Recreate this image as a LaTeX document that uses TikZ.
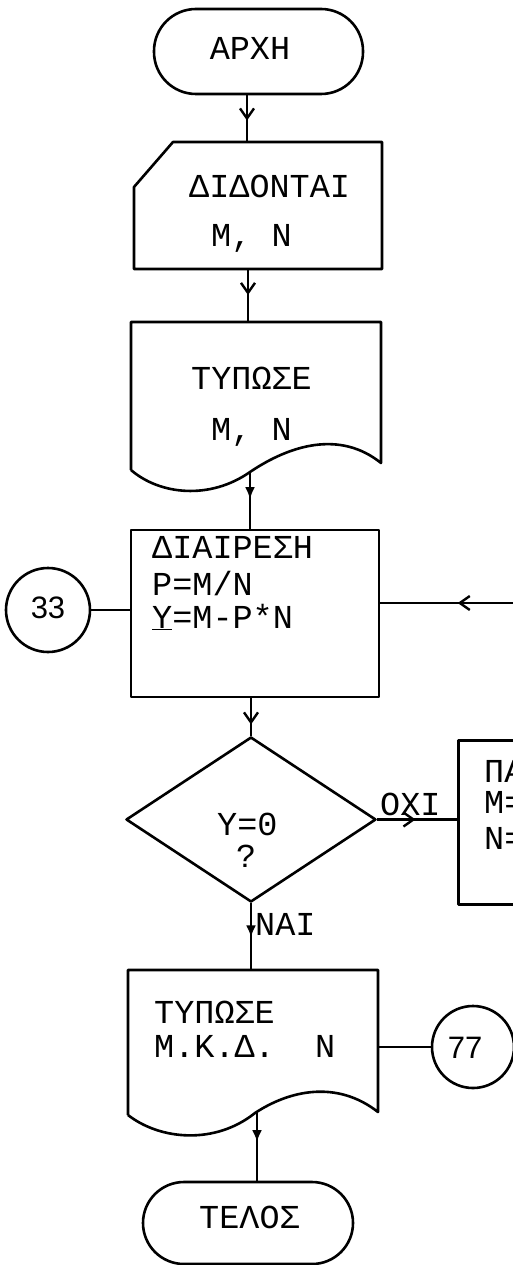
\documentclass[tikz,border=0pt]{standalone}
\usepackage{fontspec}
\newfontfamily\tw{Liberation Mono}
\newfontfamily\numfont{Liberation Sans}
\usetikzlibrary{arrows.meta,decorations.markings,shapes.geometric}
\begin{document}
\begin{tikzpicture}[x=1pt,y=-1pt,line join=round,
  fig/.style={draw,line width=2.6pt},
  txt/.style={font=\tw\fontsize{33.5}{35}\selectfont,inner sep=0pt},
  num/.style={font=\numfont\fontsize{31}{31}\selectfont,inner sep=0pt},
  conn/.style={line width=2.6pt},
  barbat/.style={postaction={decorate,decoration={markings,mark=at position #1 with {\arrow{Straight Barb[length=10pt,width=14pt,line width=2.4pt]}}}}},
  solidat/.style={postaction={decorate,decoration={markings,mark=at position #1 with {\arrow{Latex[length=12pt,width=10pt]}}}}}
]
\useasboundingbox (0,0) rectangle (513,1265);
\clip (0,0) rectangle (513,1265);

% start
\node[fig,rounded corners=42pt,minimum width=209pt,minimum height=85pt,inner sep=0pt] (start) at (258.5,51.5) {};
\node[txt,anchor=base] (tstart) at (250,60) {ΑΡΧΗ};

% manual input
\draw[fig] (173,142) -- (382,142) -- (382,269) -- (134,269) -- (134,187) -- cycle;
\coordinate (in1) at (247,142);
\coordinate (in2) at (248,269);
\node[txt,anchor=base west] (input) at (189,198) {ΔΙΔΟΝΤΑΙ};
\node[txt,anchor=base west] (input2) at (211,247) {M, N};

% document 1
\draw[fig] (131,470) -- (131,322) -- (381,322) -- (381,463)
  .. controls (340,430) and (290,445) .. (250,472)
  .. controls (210,500) and (160,495) .. (131,470);
\coordinate (d1n) at (248,322);
\coordinate (d1s) at (250,472);
\node[txt,anchor=base west] (doc1) at (191,389) {ΤΥΠΩΣΕ};
\node[txt,anchor=base west] (doc1b) at (211,440) {M, N};

% process
\node[fig,minimum width=248pt,minimum height=167pt,inner sep=0pt] (proc) at (255,613.5) {};
\node[txt,anchor=base west] (p1) at (152,558) {ΔΙΑΙΡΕΣΗ};
\node[txt,anchor=base west] (p2) at (152,595) {P=M/N};
\node[txt,anchor=base west] (p3) at (152,628) {\underline{Y}=M-P*N};

% connector 33
\node[fig,circle,minimum size=84pt,inner sep=0pt] (c33) at (48,610) {};
\node[num,anchor=base] (t33) at (48,618) {33};

% loop in from right
\coordinate (loopin) at (545,603);

% decision
\node[fig,diamond,minimum width=250pt,minimum height=165pt,inner sep=0pt] (dec) at (251,819.5) {};
\node[txt,anchor=base west] (d1) at (217,835) {Y=0};
\node[txt,anchor=base west] (d2) at (236,867) {?};
\node[txt,anchor=base west] (oxi) at (380,815) {ΟΧΙ};
\node[txt,anchor=base west] (nai) at (255,935) {ΝΑΙ};

% right box (cut by the picture edge, as in the reference)
\node[fig,anchor=north west,minimum width=120pt,minimum height=164pt,inner sep=0pt] (adj) at (457,739) {};
\node[txt,anchor=base west] (a1) at (484,782) {ΠΑ};
\node[txt,anchor=base west] (a2) at (484,813) {M=};
\node[txt,anchor=base west] (a3) at (484,849) {N=};

% document 2
\draw[fig] (128,1115) -- (128,970) -- (378,970) -- (378,1112)
  .. controls (337,1080) and (290,1090) .. (255,1113)
  .. controls (215,1145) and (160,1140) .. (128,1115);
\coordinate (d2n) at (254,970);
\coordinate (d2s) at (257,1113);
\coordinate (d2r) at (378,1047);
\node[txt,anchor=base west] (doc2) at (154,1023) {ΤΥΠΩΣΕ};
\node[txt,anchor=base west] (doc2b) at (154,1057) {Μ.Κ.Δ.\ \ N};

% connector 77
\node[fig,circle,minimum size=82pt,inner sep=0pt] (c77) at (473,1047) {};
\node[num,anchor=base] (t77) at (465,1058) {77};

% end
\node[fig,rounded corners=41pt,minimum width=210pt,minimum height=82pt,inner sep=0pt] (end) at (248,1223) {};
\node[txt,anchor=base west] (tend) at (199,1228) {ΤΕΛΟΣ};

% connectors
\draw[conn,barbat=0.54] (start.south -| in1) -- (in1);
\draw[conn,barbat=0.49] (in2) -- (d1n);
\draw[conn,solidat=0.48] (d1s) -- (d1s |- proc.north);
\draw[conn,barbat=0.7] (dec.north |- proc.south) -- (dec.north);
\draw[conn,barbat=0.53] (loopin) -- (loopin -| proc.east);
\draw[conn] (c33.east) -- (c33.east -| proc.west);
\draw[conn,barbat=0.48] (dec.east) -- (dec.east -| adj.west);
\draw[conn,solidat=0.51] (dec.south) -- (dec.south |- d2n);
\draw[conn] (d2r) -- (c77.west);
\draw[conn,solidat=0.43] (d2s) -- (d2s |- end.north);
\end{tikzpicture}
\end{document}
